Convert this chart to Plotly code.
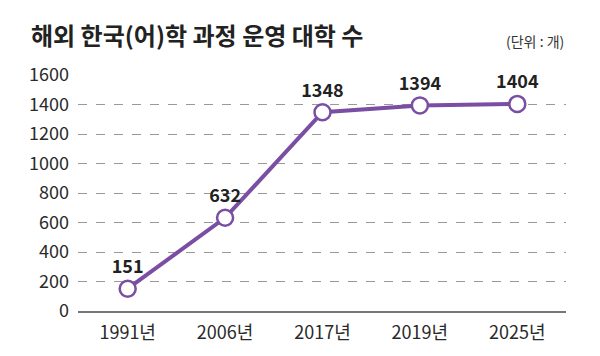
import plotly.graph_objects as go

categories = ["1991년", "2006년", "2017년", "2019년", "2025년"]
values = [151, 632, 1348, 1394, 1404]
y_ticks = [0, 200, 400, 600, 800, 1000, 1200, 1400, 1600]

FONT = "Noto Sans CJK KR"
PURPLE = "#7a4ea3"

fig = go.Figure()
fig.add_trace(go.Scatter(
    x=categories, y=values,
    mode="lines+markers+text",
    line=dict(color=PURPLE, width=4),
    marker=dict(size=16, color="white", line=dict(color=PURPLE, width=2.5)),
    text=[str(v) for v in values],
    textposition="top center",
    textfont=dict(family=FONT, size=18, color="#222222", weight="bold"),
    cliponaxis=False,
    hoverinfo="skip",
))

fig.update_layout(
    width=600, height=356,
    margin=dict(l=78, r=34, t=75, b=43),
    paper_bgcolor="white", plot_bgcolor="white",
    showlegend=False,
    font=dict(family=FONT, color="#333333"),
)
fig.update_xaxes(
    range=[-0.51, 4.50],
    showgrid=False, showline=True, linecolor="#777777", linewidth=1.5,
    ticks="", tickfont=dict(family=FONT, size=18, color="#2a2a2a"),
    ticklabelstandoff=5,
)
fig.update_yaxes(
    range=[0, 1600], tickvals=y_ticks,
    showgrid=True, gridcolor="#999999", griddash="dash", gridwidth=1,
    zeroline=False, showline=False,
    ticks="", tickfont=dict(family=FONT, size=18, color="#2a2a2a"),
    ticklabelstandoff=8,
)
fig.add_annotation(
    text="해외 한국(어)학 과정 운영 대학 수", xref="paper", yref="paper",
    x=-49 / 488, y=1.0, xanchor="left", yanchor="middle", yshift=41,
    showarrow=False, font=dict(family=FONT, size=24, color="#222222", weight="bold"),
)
fig.add_annotation(
    text="(단위 : 개)", xref="paper", yref="paper",
    x=1.0, y=1.0, xanchor="right", yanchor="middle", yshift=34,
    showarrow=False, font=dict(family=FONT, size=14, color="#333333"),
)

fig.write_html("out.html", config={"displayModeBar": False},
               post_script="document.body.style.margin='0';")
